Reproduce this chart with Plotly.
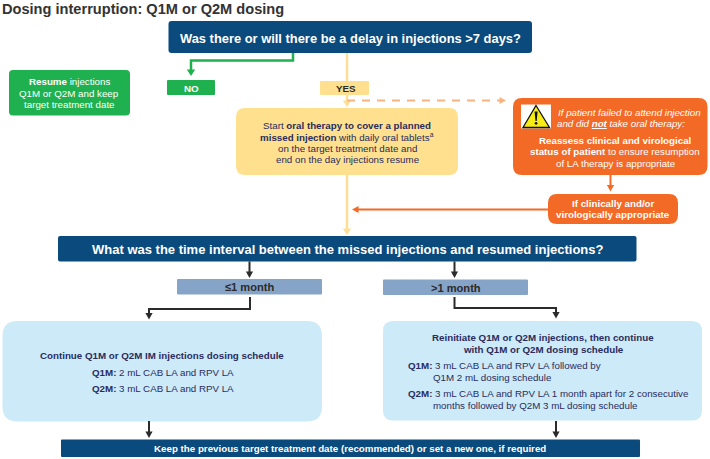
import plotly.graph_objects as go

FONT = "Liberation Sans, Arial, sans-serif"
NAVY = "#0b4a7c"; GREEN = "#1fb14f"; YELLOW = "#fee08f"; YLINE = "#fddf95"
ORANGE = "#f26a25"; DASH = "#f9b380"; STEEL = "#86a4c8"; PALE = "#cdeaf9"
INK = "#2a2c5c"; BLACK = "#2b2b2b"; WHITE = "#ffffff"; TITLE = "#333333"
BODY = 9.75

# box: x0, y0, x1, y1, radius, colour
boxes = [
    (168.5, 21, 532, 53, 3, NAVY),
    (167, 80, 215, 95, 1, GREEN),
    (9, 70, 130, 115.5, 4, GREEN),
    (320, 81, 369, 95, 1, YELLOW),
    (236, 108, 458, 175, 9, YELLOW),
    (513, 98, 707.5, 175, 9, ORANGE),
    (548, 194, 678, 224, 9, ORANGE),
    (58, 236, 636.5, 261.5, 2, NAVY),
    (177, 279, 322, 294.5, 1, STEEL),
    (383, 279.5, 528, 295, 1, STEEL),
    (2.5, 321, 322, 421.5, 15, PALE),
    (383, 321, 702, 420.5, 10, PALE),
    (61, 439.5, 640, 457, 1, NAVY),
]

# arrow: polyline points, colour, width, dash
arrows = [
    ([(293, 53), (293, 60.5), (191, 60.5), (191, 76)], GREEN, 2.5, None),
    ([(347, 53), (347, 107)], YLINE, 2.5, None),
    ([(347, 175), (347, 235)], YLINE, 2.5, None),
    ([(347, 100.5), (506, 100.5)], DASH, 2, "8px,7px"),
    ([(610.5, 175), (610.5, 191.5)], ORANGE, 2, None),
    ([(548, 209.5), (352, 209.5)], ORANGE, 2, None),
    ([(249.5, 261.5), (249.5, 278)], BLACK, 2, None),
    ([(454.5, 261.5), (454.5, 278)], BLACK, 2, None),
    ([(250, 297), (250, 309), (149, 309), (149, 319.5)], BLACK, 2, None),
    ([(454.5, 297), (454.5, 308), (556, 308), (556, 318.5)], BLACK, 2, None),
    ([(149, 421), (149, 438)], BLACK, 2, None),
    ([(556, 421), (556, 438)], BLACK, 2, None),
]

# text: x, y, string, size, colour, anchor
texts = [
    (0, 8.5, "<b>Dosing interruption: Q1M or Q2M dosing</b>", 14.6, TITLE, "left"),
    (350.5, 38, "<b>Was there or will there be a delay in injections &gt;7 days?</b>", 12.9, WHITE, "center"),
    (191.5, 88, "<b>NO</b>", 9.8, WHITE, "center"),
    (345.5, 88.5, "<b>YES</b>", 9.8, BLACK, "center"),
    (69, 81.8, "<b>Resume</b> injections", BODY, WHITE, "center"),
    (69, 93.2, "Q1M or Q2M and keep", BODY, WHITE, "center"),
    (69, 104.8, "target treatment date", BODY, WHITE, "center"),
    (347, 125, "Start <b>oral therapy to cover a planned</b>", BODY, INK, "center"),
    (347, 136.5, "<b>missed injection</b> with daily oral tablets<sup>a</sup>", BODY, INK, "center"),
    (347, 148, "on the target treatment date and", BODY, INK, "center"),
    (347, 159.5, "end on the day injections resume", BODY, INK, "center"),
    (556, 112, "<i>If patient failed to attend injection</i>", BODY, WHITE, "left"),
    (554.5, 123.5, "<i>and did <b><u>not</u></b> take oral therapy:</i>", BODY, WHITE, "left"),
    (615, 140, "<b>Reassess clinical and virological</b>", BODY, WHITE, "center"),
    (615, 151.5, "<b>status of patient</b> to ensure resumption", BODY, WHITE, "center"),
    (615, 163.5, "of LA therapy is appropriate", BODY, WHITE, "center"),
    (613, 203, "<b>If clinically and/or</b>", BODY, WHITE, "center"),
    (613, 214.5, "<b>virologically appropriate</b>", BODY, WHITE, "center"),
    (348, 249, "<b>What was the time interval between the missed injections and resumed injections?</b>", 13, WHITE, "center"),
    (249.5, 287, "<b>≤1 month</b>", 11.1, BLACK, "center"),
    (456, 287.5, "<b>&gt;1 month</b>", 11.1, BLACK, "center"),
    (162, 355.5, "<b>Continue Q1M or Q2M IM injections dosing schedule</b>", BODY, INK, "center"),
    (162.5, 372, "<b>Q1M:</b> 2 mL CAB LA and RPV LA", BODY, INK, "center"),
    (162.5, 388, "<b>Q2M:</b> 3 mL CAB LA and RPV LA", BODY, INK, "center"),
    (543, 337, "<b>Reinitiate Q1M or Q2M injections, then continue</b>", BODY, INK, "center"),
    (543, 349, "<b>with Q1M or Q2M dosing schedule</b>", BODY, INK, "center"),
    (406, 365, "<b>Q1M:</b> 3 mL CAB LA and RPV LA followed by", BODY, INK, "left"),
    (431, 377, "Q1M 2 mL dosing schedule", BODY, INK, "left"),
    (406, 393.5, "<b>Q2M:</b> 3 mL CAB LA and RPV LA 1 month apart for 2 consecutive", BODY, INK, "left"),
    (431, 405.5, "months followed by Q2M 3 mL dosing schedule", BODY, INK, "left"),
    (350, 448.5, "<b>Keep the previous target treatment date (recommended) or set a new one, if required</b>", BODY, WHITE, "center"),
]


def round_rect(x0, y0, x1, y1, r):
    return (f"M{x0+r},{y0} L{x1-r},{y0} Q{x1},{y0} {x1},{y0+r} L{x1},{y1-r} Q{x1},{y1} {x1-r},{y1} "
            f"L{x0+r},{y1} Q{x0},{y1} {x0},{y1-r} L{x0},{y0+r} Q{x0},{y0} {x0+r},{y0} Z")


shapes = []
for x0, y0, x1, y1, r, c in boxes:
    shapes.append(dict(type="path", path=round_rect(x0, y0, x1, y1, r), fillcolor=c,
                       line=dict(width=0), layer="above"))

for pts, c, w, dash in arrows:
    (xa, ya), (xb, yb) = pts[-2], pts[-1]
    ux = (xb > xa) - (xb < xa)
    uy = (yb > ya) - (yb < ya)
    hl, hw = 6.5, 3.6 if w < 2.5 else 4.2
    end = (xb - ux * (hl - 1), yb - uy * (hl - 1))
    line_pts = pts[:-1] + [end]
    shapes.append(dict(type="path",
                       path="M" + " L".join(f"{x},{y}" for x, y in line_pts),
                       line=dict(color=c, width=w, dash=dash or "solid"),
                       fillcolor="rgba(0,0,0,0)", layer="above"))
    bx, by = xb - ux * hl, yb - uy * hl
    shapes.append(dict(type="path",
                       path=f"M{xb},{yb} L{bx - uy * hw},{by + ux * hw} L{bx + uy * hw},{by - ux * hw} Z",
                       fillcolor=c, line=dict(width=0), layer="above"))

# warning icon
shapes += [
    dict(type="rect", x0=521, y0=104.5, x1=551, y1=128.5, fillcolor=WHITE, line=dict(width=0), layer="above"),
    dict(type="path", path="M536,105.5 L549.5,127.5 L523,127.5 Z", fillcolor="#f7ec13",
         line=dict(color="#111111", width=1.3), layer="above"),
    dict(type="path", path="M534.6,111.5 L537.6,111.5 L536.7,121 L535.5,121 Z", fillcolor="#111111",
         line=dict(width=0), layer="above"),
    dict(type="circle", x0=534.7, y0=122, x1=537.4, y1=124.7, fillcolor="#111111", line=dict(width=0), layer="above"),
]

annotations = [
    dict(x=x, y=y, text=t, xref="x", yref="y", showarrow=False, xanchor=a, yanchor="middle",
         font=dict(family=FONT, size=s, color=c), align=a)
    for x, y, t, s, c, a in texts
]

fig = go.Figure()
fig.update_layout(
    width=710, height=459, margin=dict(l=0, r=0, t=0, b=0),
    paper_bgcolor="white", plot_bgcolor="white", showlegend=False,
    xaxis=dict(range=[0, 710], visible=False, fixedrange=True),
    yaxis=dict(range=[459, 0], visible=False, fixedrange=True),
    shapes=shapes, annotations=annotations,
)
fig.write_html("out.html", config=dict(displayModeBar=False),
               post_script="document.body.style.margin='0';document.body.style.overflow='hidden';")
